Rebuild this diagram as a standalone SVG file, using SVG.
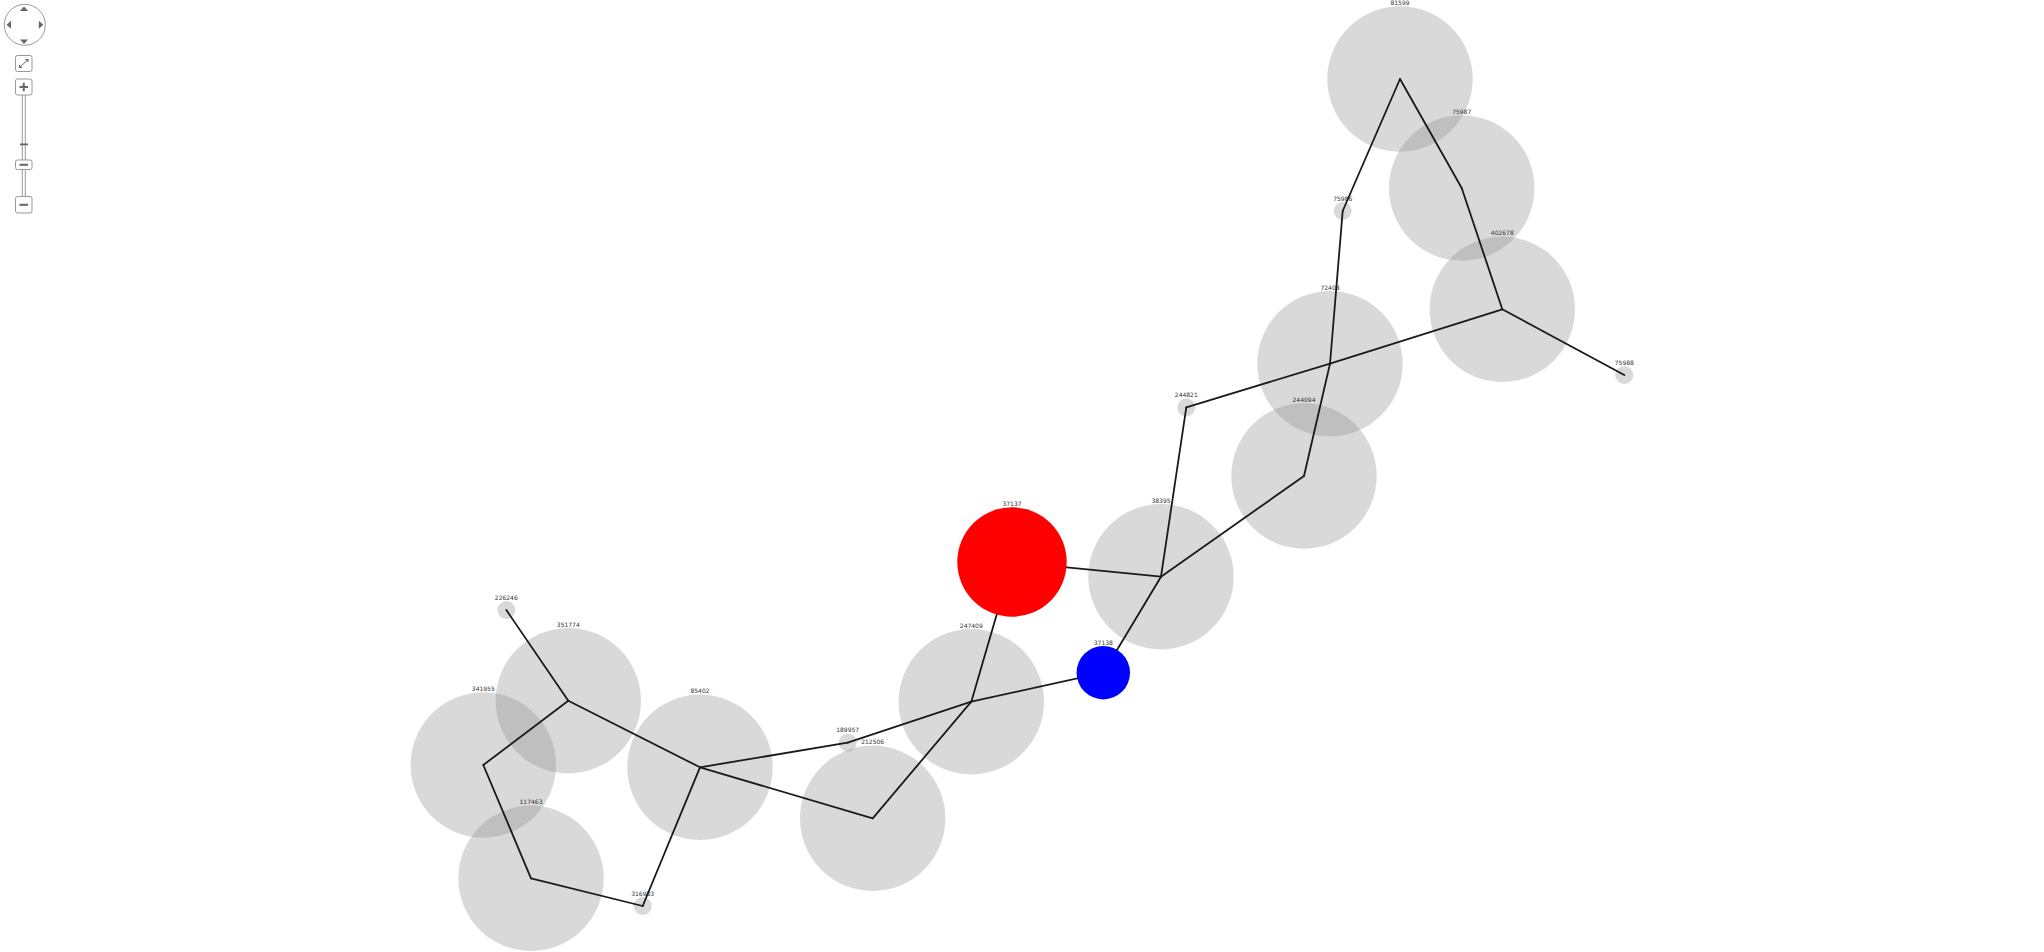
<svg xmlns="http://www.w3.org/2000/svg" width="2044" height="952" viewBox="0 0 2044 952">
<style>
.g{fill:#888;fill-opacity:0.32}
.lbl{font-family:"DejaVu Sans",sans-serif;font-size:6px;fill:#333;text-anchor:middle}
.e{stroke:#1a1a1a;stroke-width:1.8;fill:none;stroke-linecap:round}
.btn{fill:#fff;stroke:#999;stroke-width:1}
.ic{fill:#666}
</style>
<rect width="2044" height="952" fill="#fff"/>
<g id="controls">
<circle cx="24.8" cy="24.8" r="20.5" fill="#fff" stroke="#999" stroke-width="1"/>
<polygon class="ic" points="20,11 28,11 24,6.5"/>
<polygon class="ic" points="20,39.5 28,39.5 24,44"/>
<polygon class="ic" points="11,20.8 11,28.8 6.5,24.8"/>
<polygon class="ic" points="38.8,20.8 38.8,28.8 43.3,24.8"/>
<rect class="btn" x="15.5" y="55.5" width="16.5" height="16" rx="2"/>
<line x1="19.5" y1="67.5" x2="28" y2="59.5" stroke="#666" stroke-width="1"/>
<polygon class="ic" points="19,68 19,64.5 22.5,68"/>
<polygon class="ic" points="28.5,59 25,59 28.5,62.5"/>
<line x1="22.3" y1="95" x2="22.3" y2="196" stroke="#999" stroke-width="1"/>
<line x1="25.3" y1="95" x2="25.3" y2="196" stroke="#999" stroke-width="1"/>
<rect class="btn" x="15.5" y="79" width="16.5" height="16" rx="2"/>
<rect class="ic" x="19.5" y="86" width="8.5" height="2"/>
<rect class="ic" x="22.75" y="82.8" width="2" height="8.5"/>
<rect x="20" y="143.5" width="8" height="1.8" fill="#666"/>
<rect class="btn" x="15.5" y="160" width="16.5" height="9.5" rx="2"/>
<rect class="ic" x="19.5" y="163.8" width="8.5" height="2"/>
<rect class="btn" x="15.5" y="196.5" width="16.5" height="16.5" rx="2"/>
<rect class="ic" x="19.5" y="203.8" width="8.5" height="2"/>
</g>
<g id="nodes-gray">
<g id="n81599"><circle class="g" cx="1400" cy="79" r="72.7"/><text class="lbl" x="1400" y="4.8">81599</text></g>
<g id="n75987"><circle class="g" cx="1461.7" cy="188" r="72.7"/><text class="lbl" x="1461.7" y="113.8">75987</text></g>
<g id="n402678"><circle class="g" cx="1502.3" cy="309.3" r="72.7"/><text class="lbl" x="1502.3" y="235.1">402678</text></g>
<g id="n72408"><circle class="g" cx="1330" cy="363.7" r="72.7"/><text class="lbl" x="1330" y="289.5">72408</text></g>
<g id="n244094"><circle class="g" cx="1304" cy="476" r="72.7"/><text class="lbl" x="1304" y="401.8">244094</text></g>
<g id="n38395"><circle class="g" cx="1161" cy="576.7" r="72.7"/><text class="lbl" x="1161" y="502.5">38395</text></g>
<g id="n247409"><circle class="g" cx="971.3" cy="701.7" r="72.7"/><text class="lbl" x="971.3" y="627.5">247409</text></g>
<g id="n212506"><circle class="g" cx="872.7" cy="818.3" r="72.7"/><text class="lbl" x="872.7" y="744.1">212506</text></g>
<g id="n85402"><circle class="g" cx="700" cy="767.3" r="72.7"/><text class="lbl" x="700" y="693.1">85402</text></g>
<g id="n351774"><circle class="g" cx="568.3" cy="700.7" r="72.7"/><text class="lbl" x="568.3" y="626.5">351774</text></g>
<g id="n341955"><circle class="g" cx="483.3" cy="765" r="72.7"/><text class="lbl" x="483.3" y="690.8">341955</text></g>
<g id="n117463"><circle class="g" cx="531" cy="878.3" r="72.7"/><text class="lbl" x="531" y="804.1">117463</text></g>
<g id="n75986"><circle class="g" cx="1342.7" cy="211" r="9"/><text class="lbl" x="1342.7" y="200.5">75986</text></g>
<g id="n75988"><circle class="g" cx="1624.3" cy="375" r="9"/><text class="lbl" x="1624.3" y="364.5">75988</text></g>
<g id="n244821"><circle class="g" cx="1186.3" cy="407.3" r="9"/><text class="lbl" x="1186.3" y="396.8">244821</text></g>
<g id="n189957"><circle class="g" cx="847.7" cy="742.7" r="9"/><text class="lbl" x="847.7" y="732.2">189957</text></g>
<g id="n226246"><circle class="g" cx="506.3" cy="610" r="9"/><text class="lbl" x="506.3" y="599.5">226246</text></g>
<g id="n316983"><circle class="g" cx="642.7" cy="906" r="9"/><text class="lbl" x="642.7" y="895.5">316983</text></g>
</g>
<g id="connectors">
<line class="e" x1="1400" y1="79" x2="1342.7" y2="211"/>
<line class="e" x1="1400" y1="79" x2="1461.7" y2="188"/>
<line class="e" x1="1461.7" y1="188" x2="1502.3" y2="309.3"/>
<line class="e" x1="1342.7" y1="211" x2="1330" y2="363.7"/>
<line class="e" x1="1330" y1="363.7" x2="1502.3" y2="309.3"/>
<line class="e" x1="1186.3" y1="407.3" x2="1330" y2="363.7"/>
<line class="e" x1="1330" y1="363.7" x2="1304" y2="476"/>
<line class="e" x1="1502.3" y1="309.3" x2="1624.3" y2="375"/>
<line class="e" x1="1186.3" y1="407.3" x2="1161" y2="576.7"/>
<line class="e" x1="1304" y1="476" x2="1161" y2="576.7"/>
<line class="e" x1="1161" y1="576.7" x2="1012" y2="562"/>
<line class="e" x1="1161" y1="576.7" x2="1103.3" y2="672.7"/>
<line class="e" x1="1103.3" y1="672.7" x2="971.3" y2="701.7"/>
<line class="e" x1="1012" y1="562" x2="971.3" y2="701.7"/>
<line class="e" x1="971.3" y1="701.7" x2="847.7" y2="742.7"/>
<line class="e" x1="971.3" y1="701.7" x2="872.7" y2="818.3"/>
<line class="e" x1="847.7" y1="742.7" x2="700" y2="767.3"/>
<line class="e" x1="872.7" y1="818.3" x2="700" y2="767.3"/>
<line class="e" x1="700" y1="767.3" x2="568.3" y2="700.7"/>
<line class="e" x1="700" y1="767.3" x2="642.7" y2="906"/>
<line class="e" x1="568.3" y1="700.7" x2="506.3" y2="610"/>
<line class="e" x1="568.3" y1="700.7" x2="483.3" y2="765"/>
<line class="e" x1="483.3" y1="765" x2="531" y2="878.3"/>
<line class="e" x1="531" y1="878.3" x2="642.7" y2="906"/>
</g>
<g id="n37137"><circle cx="1012" cy="562" r="54.7" fill="#ff0000"/><text class="lbl" x="1012" y="505.8">37137</text></g>
<g id="n37138"><circle cx="1103.3" cy="672.7" r="26.7" fill="#0000ff"/><text class="lbl" x="1103.3" y="644.5">37138</text></g>
</svg>
